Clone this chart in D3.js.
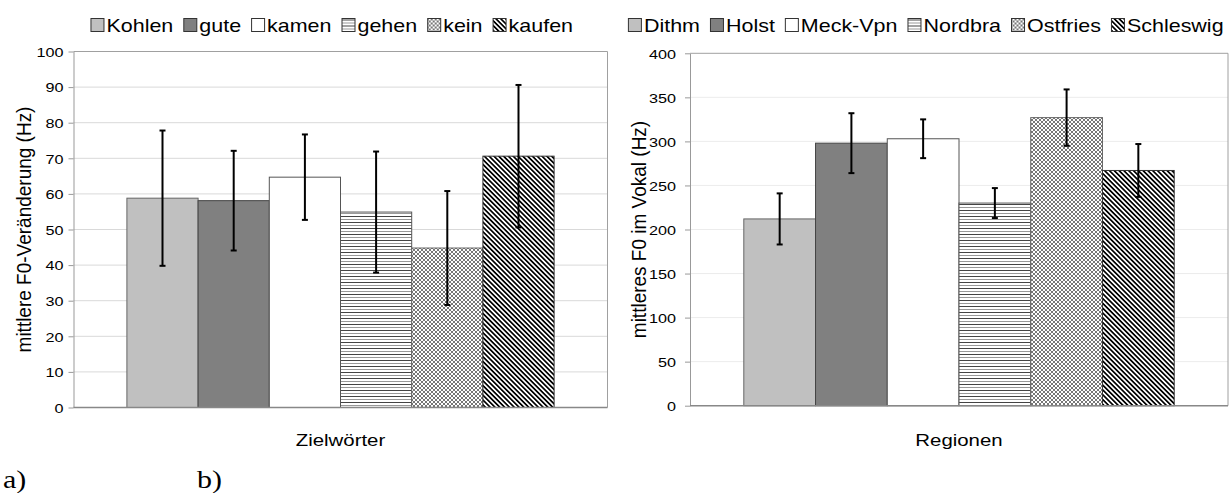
<!DOCTYPE html>
<html>
<head>
<meta charset="utf-8">
<script src="https://cdn.jsdelivr.net/npm/d3@7"></script>
<style>
  body { margin: 0; background: #fff; }
  svg { display: block; font-family: "Liberation Sans", Arial, sans-serif; }
</style>
</head>
<body>
<div id="chart"></div>
<script>
// data
var words = ["Kohlen", "gute", "kamen", "gehen", "kein", "kaufen"];
var wordMeans = [58.8, 58.1, 64.7, 54.9, 44.8, 70.6];
var wordErrors = [19, 14, 12, 17, 16, 20];
var wordTicks = [0, 10, 20, 30, 40, 50, 60, 70, 80, 90, 100];

var regions = ["Dithm", "Holst", "Meck-Vpn", "Nordbra", "Ostfries", "Schleswig"];
var regionMeans = [212, 298, 303, 230, 327, 267];
var regionErrors = [29, 34, 22, 17, 32, 30];
var regionTicks = [0, 50, 100, 150, 200, 250, 300, 350, 400];

var width = 1229, height = 493;
var SX = 1.2; // the original picture is a bit stretched sideways

var svg = d3.select('#chart')
  .append('svg')
  .attr('width', width)
  .attr('height', height);

// fill patterns
var defs = svg.append('defs');

var hl = defs.append('pattern')
  .attr('id', 'hlines')
  .attr('patternUnits', 'userSpaceOnUse')
  .attr('width', 6).attr('height', 6);
hl.append('rect').attr('width', 6).attr('height', 6).attr('fill', '#fff');
hl.append('rect').attr('y', 0).attr('width', 6).attr('height', 1).attr('fill', '#444');
hl.append('rect').attr('y', 3).attr('width', 6).attr('height', 1).attr('fill', '#999');

var ck = defs.append('pattern')
  .attr('id', 'check')
  .attr('patternUnits', 'userSpaceOnUse')
  .attr('width', 4).attr('height', 4);
ck.append('rect').attr('width', 4).attr('height', 4).attr('fill', '#fff');
ck.append('path')
  .attr('d', 'M0,0L4,4M4,0L0,4')
  .attr('stroke', '#777')
  .attr('stroke-width', 1);

var dg = defs.append('pattern')
  .attr('id', 'diag')
  .attr('patternUnits', 'userSpaceOnUse')
  .attr('width', 3.4).attr('height', 10)
  .attr('patternTransform', 'rotate(-45)');
dg.append('rect').attr('width', 3.4).attr('height', 10).attr('fill', '#fff');
dg.append('rect').attr('width', 1.7).attr('height', 10).attr('fill', '#000');

var fills = ['#c0c0c0', '#808080', '#ffffff', 'url(#hlines)', 'url(#check)', 'url(#diag)'];
var strokes = ['#666', '#444', '#555', '#555', '#666', '#333'];

function stretchText(sel, x, y, sx) {
  sx = sx || SX;
  sel.attr('x', x / sx).attr('y', y).attr('transform', 'scale(' + sx + ',1)');
}

function drawChart(cfg) {
  var g = svg.append('g');

  var yScale = d3.scaleLinear()
    .domain([0, cfg.max])
    .range([cfg.bottom, cfg.top]);

  var outer = d3.scaleBand()
    .domain(['all'])
    .range([cfg.left, cfg.right])
    .paddingInner(0)
    .paddingOuter(0.125);

  var xScale = d3.scaleBand()
    .domain(cfg.names)
    .range([outer('all'), outer('all') + outer.bandwidth()]);

  // grid
  g.selectAll('.grid')
    .data(cfg.ticks.filter(function (t) { return t > 0 && t < cfg.max; }))
    .enter().append('line')
    .attr('x1', cfg.left).attr('x2', cfg.right)
    .attr('y1', function (d) { return yScale(d); })
    .attr('y2', function (d) { return yScale(d); })
    .attr('stroke', cfg.grid)
    .attr('stroke-width', 1);

  // top and right border
  g.append('path')
    .attr('d', 'M' + cfg.left + ',' + yScale(cfg.max) + 'H' + cfg.right + 'V' + yScale(0))
    .attr('fill', 'none')
    .attr('stroke', '#a0a0a0');

  // bars
  g.selectAll('.bar')
    .data(cfg.values)
    .enter().append('rect')
    .attr('x', function (d, i) { return xScale(cfg.names[i]); })
    .attr('y', function (d) { return yScale(d); })
    .attr('width', xScale.bandwidth())
    .attr('height', function (d) { return yScale(0) - yScale(d); })
    .attr('fill', function (d, i) { return fills[i]; })
    .attr('stroke', function (d, i) { return strokes[i]; })
    .attr('stroke-width', 1);

  // error bars
  var eb = g.selectAll('.err')
    .data(cfg.values)
    .enter().append('g')
    .attr('transform', function (d, i) {
      return 'translate(' + (xScale(cfg.names[i]) + xScale.bandwidth() / 2) + ',0)';
    });
  eb.append('line')
    .attr('y1', function (d, i) { return yScale(d + cfg.errors[i]); })
    .attr('y2', function (d, i) { return yScale(d - cfg.errors[i]); })
    .attr('stroke', '#000').attr('stroke-width', 2);
  eb.append('line')
    .attr('x1', -3).attr('x2', 3)
    .attr('y1', function (d, i) { return yScale(d + cfg.errors[i]); })
    .attr('y2', function (d, i) { return yScale(d + cfg.errors[i]); })
    .attr('stroke', '#000').attr('stroke-width', 2);
  eb.append('line')
    .attr('x1', -3).attr('x2', 3)
    .attr('y1', function (d, i) { return yScale(d - cfg.errors[i]); })
    .attr('y2', function (d, i) { return yScale(d - cfg.errors[i]); })
    .attr('stroke', '#000').attr('stroke-width', 2);

  // y axis
  var ax = g.append('g')
    .attr('transform', 'translate(' + cfg.left + ',0)')
    .call(d3.axisLeft(yScale).tickValues(cfg.ticks).tickSize(5).tickPadding(cfg.pad).tickSizeOuter(0));
  ax.select('.domain').attr('stroke', '#999');
  ax.selectAll('.tick line').attr('stroke', '#999');
  ax.selectAll('.tick text')
    .attr('font-size', 13.5)
    .attr('font-family', '"Liberation Sans", Arial, sans-serif')
    .attr('fill', '#000')
    .attr('dy', '0.36em')
    .each(function () {
      d3.select(this).call(stretchText, -(5 + cfg.pad), 0);
    });

  // bottom axis line
  g.append('line')
    .attr('x1', cfg.left).attr('x2', cfg.right)
    .attr('y1', yScale(0)).attr('y2', yScale(0))
    .attr('stroke', '#888').attr('stroke-width', 1.5);

  // axis titles
  g.append('text')
    .attr('font-size', 17)
    .attr('text-anchor', 'middle')
    .text(cfg.xTitle)
    .call(stretchText, (cfg.left + cfg.right) / 2, 446);

  g.append('text')
    .attr('font-size', 19)
    .attr('text-anchor', 'middle')
    .attr('transform', 'translate(' + cfg.yTitleX + ',' + ((cfg.top + cfg.bottom) / 2) + ') scale(1.05,1) rotate(-90)')
    .attr('dy', '0.35em')
    .text(cfg.yTitle);

  // legend
  var lsx = 1.13;
  var lg = g.append('g').attr('transform', 'translate(0,31.5)');
  var items = lg.selectAll('.item')
    .data(cfg.names)
    .enter().append('g');
  items.append('rect')
    .attr('y', -13).attr('width', 13).attr('height', 13)
    .attr('fill', function (d, i) { return fills[i]; })
    .attr('stroke', '#333').attr('stroke-width', 1);
  items.append('text')
    .attr('font-size', 19)
    .text(function (d) { return d; })
    .call(stretchText, 15.5, 0, lsx);
  var widths = [];
  items.select('text').each(function () { widths.push(this.getComputedTextLength() * lsx); });
  var gap = 10.5;
  var total = d3.sum(widths) + widths.length * 15.5 + (widths.length - 1) * gap;
  var pos = cfg.legendCenter - total / 2;
  items.attr('transform', function (d, i) {
    var p = pos;
    pos += 15.5 + widths[i] + gap;
    return 'translate(' + p + ',0)';
  });
}

drawChart({
  names: words, values: wordMeans, errors: wordErrors, ticks: wordTicks, max: 100,
  left: 73.5, right: 607.5, top: 51.5, bottom: 407.5, pad: 5,
  grid: '#d9d9d9', xTitle: 'Zielwörter', yTitle: 'mittlere F0-Veränderung (Hz)',
  yTitleX: 24, legendCenter: 332
});

drawChart({
  names: regions, values: regionMeans, errors: regionErrors, ticks: regionTicks, max: 400,
  left: 690, right: 1228, top: 53.3, bottom: 405.7, pad: 9,
  grid: '#ececec', xTitle: 'Regionen', yTitle: 'mittleres F0 im Vokal (Hz)',
  yTitleX: 639, legendCenter: 926
});

// panel labels
svg.append('text')
  .attr('font-family', '"Liberation Serif", "Times New Roman", serif')
  .attr('font-size', 25)
  .text('a)')
  .call(stretchText, 3, 488);
svg.append('text')
  .attr('font-family', '"Liberation Serif", "Times New Roman", serif')
  .attr('font-size', 25)
  .text('b)')
  .call(stretchText, 197, 488);
</script>
</body>
</html>
